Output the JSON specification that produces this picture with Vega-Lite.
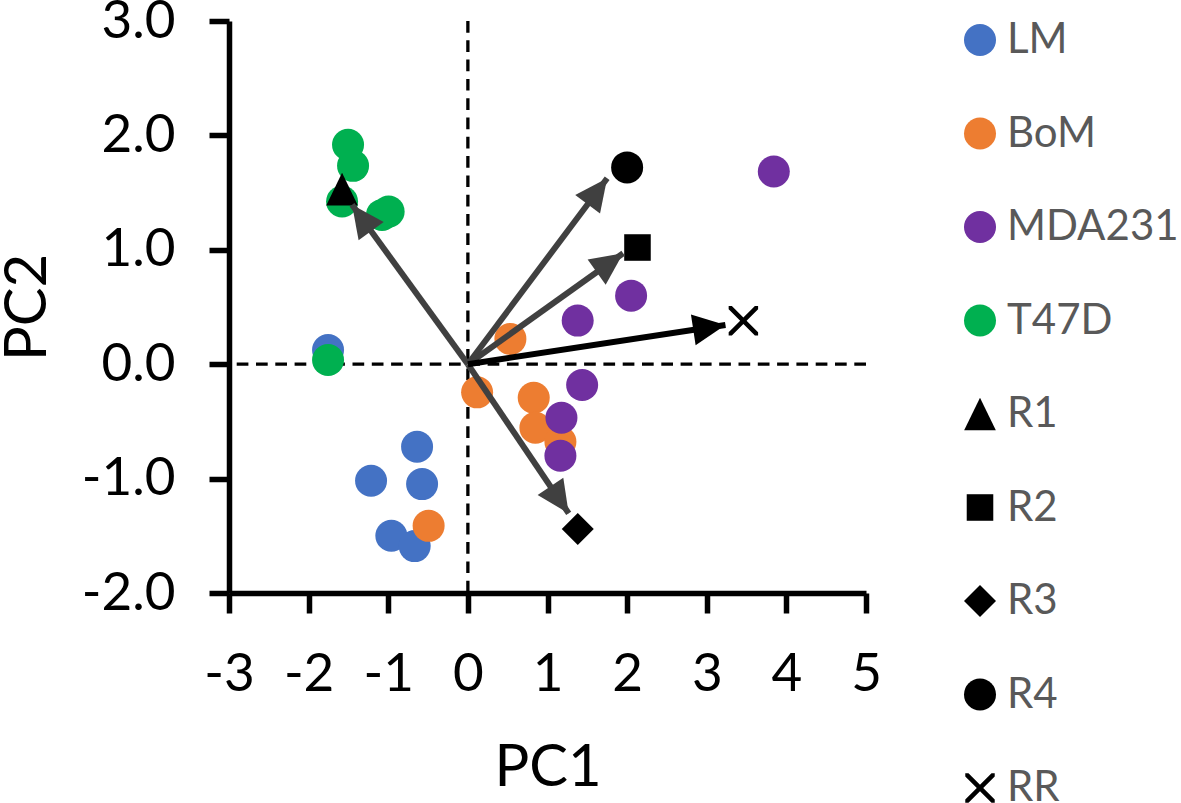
{
  "$schema": "https://vega.github.io/schema/vega-lite/v6.json",
  "width": 637,
  "height": 572,
  "autosize": "none",
  "padding": {"left": 229, "top": 21, "right": 315, "bottom": 210},
  "background": "white",
  "config": {
    "font": "Lato",
    "view": {"stroke": null},
    "axis": {
      "grid": false,
      "domainColor": "black",
      "domainWidth": 5.5,
      "tickColor": "black",
      "tickWidth": 5.5,
      "tickSize": 20,
      "labelFont": "Lato",
      "labelFontSize": 53,
      "labelColor": "black",
      "labelOverlap": false,
      "labelFlush": false,
      "titleFont": "Lato",
      "titleFontSize": 58,
      "titleFontWeight": "normal",
      "titleColor": "black"
    },
    "legend": {
      "symbolSize": 1024,
      "symbolStrokeWidth": 0,
      "symbolOpacity": 1,
      "labelFont": "Lato",
      "labelFontSize": 42,
      "labelColor": "#595959",
      "labelOffset": 6,
      "labelLimit": 0,
      "rowPadding": 51.5,
      "padding": 0
    }
  },
  "datasets": {
    "samples": [
      {"group": "LM", "PC1": -1.756, "PC2": 0.124},
      {"group": "LM", "PC1": -0.638, "PC2": -0.722},
      {"group": "LM", "PC1": -1.216, "PC2": -1.019},
      {"group": "LM", "PC1": -0.575, "PC2": -1.048},
      {"group": "LM", "PC1": -0.961, "PC2": -1.5},
      {"group": "LM", "PC1": -0.668, "PC2": -1.59},
      {"group": "BoM", "PC1": 0.534, "PC2": 0.221},
      {"group": "BoM", "PC1": 0.116, "PC2": -0.246},
      {"group": "BoM", "PC1": 0.827, "PC2": -0.293},
      {"group": "BoM", "PC1": 0.848, "PC2": -0.556},
      {"group": "BoM", "PC1": 1.162, "PC2": -0.678},
      {"group": "BoM", "PC1": -0.493, "PC2": -1.413},
      {"group": "MDA231", "PC1": 3.842, "PC2": 1.684},
      {"group": "MDA231", "PC1": 2.05, "PC2": 0.599},
      {"group": "MDA231", "PC1": 1.379, "PC2": 0.381},
      {"group": "MDA231", "PC1": 1.435, "PC2": -0.182},
      {"group": "MDA231", "PC1": 1.175, "PC2": -0.468},
      {"group": "MDA231", "PC1": 1.162, "PC2": -0.8},
      {"group": "T47D", "PC1": -1.505, "PC2": 1.918},
      {"group": "T47D", "PC1": -1.442, "PC2": 1.734},
      {"group": "T47D", "PC1": -1.58, "PC2": 1.422},
      {"group": "T47D", "PC1": -1.078, "PC2": 1.305},
      {"group": "T47D", "PC1": -0.995, "PC2": 1.334},
      {"group": "T47D", "PC1": -1.756, "PC2": 0.037},
      {"group": "R1", "PC1": -1.58, "PC2": 1.53},
      {"group": "R2", "PC1": 2.13, "PC2": 1.02},
      {"group": "R3", "PC1": 1.38, "PC2": -1.44},
      {"group": "R4", "PC1": 2.0, "PC2": 1.72},
      {"group": "RR", "PC1": 3.46, "PC2": 0.38}
    ],
    "arrows": [
      {"name": "R1", "PC1": -1.455, "PC2": 1.393},
      {"name": "R2", "PC1": 1.95, "PC2": 0.97},
      {"name": "R3", "PC1": 1.266, "PC2": -1.304},
      {"name": "R4", "PC1": 1.749, "PC2": 1.626},
      {"name": "RR", "PC1": 3.235, "PC2": 0.343}
    ],
    "zero": [{"v": 0}]
  },
  "layer": [
    {
      "data": {"name": "zero"},
      "mark": {"type": "rule", "color": "black", "strokeWidth": 3.3, "strokeDash": [11.7, 7.6]},
      "encoding": {"x": {"field": "v", "type": "quantitative"}}
    },
    {
      "data": {"name": "zero"},
      "mark": {"type": "rule", "color": "black", "strokeWidth": 3.3, "strokeDash": [11.7, 7.6]},
      "encoding": {"y": {"field": "v", "type": "quantitative"}}
    },
    {
      "data": {"name": "samples"},
      "mark": {"type": "point", "filled": true, "opacity": 1, "size": 1024, "strokeWidth": 0},
      "encoding": {
        "x": {
          "field": "PC1", "type": "quantitative",
          "scale": {"domain": [-3, 5], "nice": false, "zero": false},
          "axis": {"values": [-3, -2, -1, 0, 1, 2, 3, 4, 5], "format": "d", "labelExpr": "replace(datum.label, '\u2212', '-')", "title": "PC1", "labelPadding": 35, "titleX": 318.5, "titleY": 192, "titleBaseline": "alphabetic", "titleAlign": "center"}
        },
        "y": {
          "field": "PC2", "type": "quantitative",
          "scale": {"domain": [-2, 3], "nice": false, "zero": false},
          "axis": {"values": [-2, -1, 0, 1, 2, 3], "format": ".1f", "labelExpr": "replace(datum.label, '\u2212', '-')", "title": "PC2", "labelPadding": 34, "titleX": -184, "titleY": 286, "titleBaseline": "alphabetic", "titleAlign": "center", "titleAngle": -90}
        },
        "color": {
          "field": "group", "type": "nominal",
          "scale": {
            "domain": ["LM", "BoM", "MDA231", "T47D", "R1", "R2", "R3", "R4", "RR"],
            "range": ["#4472C4", "#ED7D31", "#7030A0", "#00B050", "#000000", "#000000", "#000000", "#000000", "#000000"]
          },
          "legend": {"title": null, "orient": "none", "legendX": 730, "legendY": -2}
        },
        "shape": {
          "field": "group", "type": "nominal",
          "scale": {
            "domain": ["LM", "BoM", "MDA231", "T47D", "R1", "R2", "R3", "R4", "RR"],
            "range": [
              "circle", "circle", "circle", "circle",
              "M0,-1.02L0.99,1.02L-0.99,1.02Z",
              "M-0.83,-0.83H0.83V0.83H-0.83Z",
              "diamond",
              "circle",
              "M-0.92,-0.92L-0.72,-0.92L0,-0.2L0.72,-0.92L0.92,-0.92L0.92,-0.72L0.2,0L0.92,0.72L0.92,0.92L0.72,0.92L0,0.2L-0.72,0.92L-0.92,0.92L-0.92,0.72L-0.2,0L-0.92,-0.72Z"
            ]
          },
          "legend": {"title": null, "orient": "none", "legendX": 730, "legendY": -2}
        }
      }
    },
    {
      "data": {"name": "arrows"},
      "mark": {"type": "rule", "strokeWidth": 6, "strokeCap": "butt"},
      "encoding": {
        "x": {"field": "PC1", "type": "quantitative"},
        "y": {"field": "PC2", "type": "quantitative"},
        "x2": {"datum": 0},
        "y2": {"datum": 0},
        "color": {"condition": {"test": "datum.name === 'RR'", "value": "#000000"}, "value": "#404040"}
      }
    },
    {
      "data": {"name": "arrows"},
      "mark": {
        "type": "point", "filled": true, "opacity": 1, "strokeWidth": 0,
        "shape": "M0,0L-1,2.1L1,2.1Z",
        "size": 961,
        "angle": {"expr": "atan2(scale('x', datum.PC1) - scale('x', 0), scale('y', 0) - scale('y', datum.PC2)) * 180 / PI"}
      },
      "encoding": {
        "x": {"field": "PC1", "type": "quantitative"},
        "y": {"field": "PC2", "type": "quantitative"},
        "color": {"condition": {"test": "datum.name === 'RR'", "value": "#000000"}, "value": "#404040"}
      }
    }
  ]
}
